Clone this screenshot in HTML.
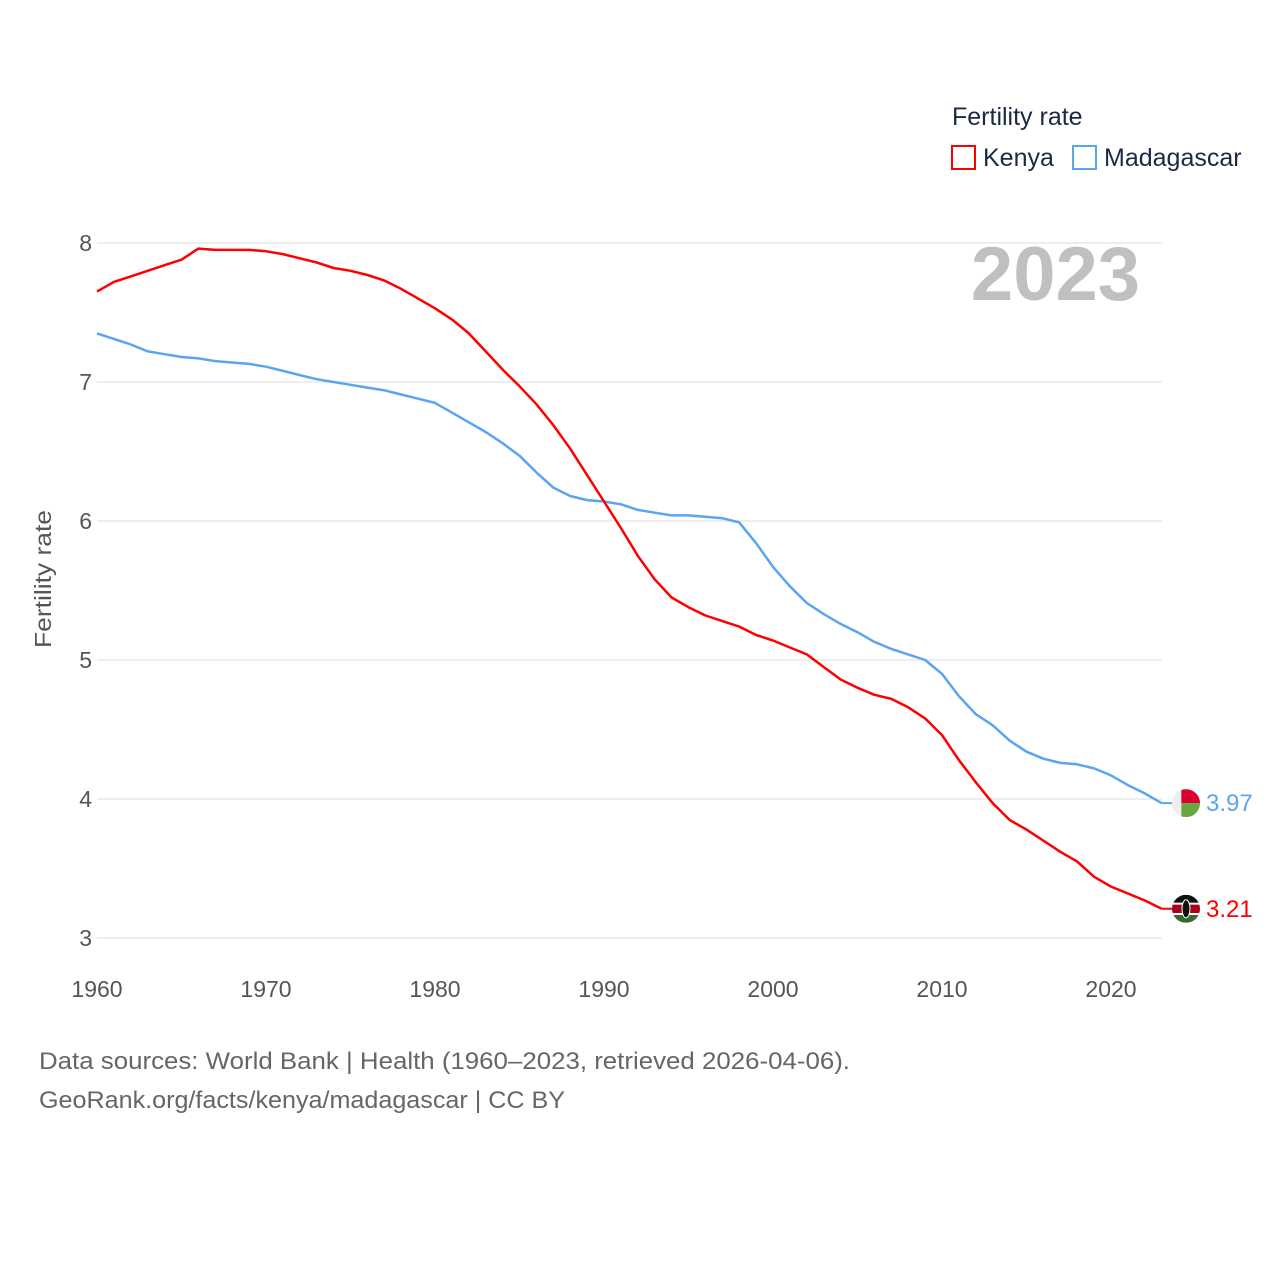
<!DOCTYPE html>
<html><head><meta charset="utf-8"><style>
body{margin:0;background:#fff;font-family:"Liberation Sans",sans-serif;}
svg text{font-family:"Liberation Sans",sans-serif;}
</style></head><body>
<svg id="chart" width="1280" height="1280" viewBox="0 0 1280 1280">
<rect width="1280" height="1280" fill="#fff"/>
<g id="grid"></g>
<g id="yticks"></g>
<g id="xticks"></g>
<text transform="translate(51,579) rotate(-90)" text-anchor="middle" font-size="23" fill="#555" textLength="138" lengthAdjust="spacingAndGlyphs">Fertility rate</text>
<text x="1140" y="300" text-anchor="end" font-size="76" font-weight="bold" fill="#c0c0c0">2023</text>
<g>
<text x="952" y="125" font-size="25" fill="#1a2a44">Fertility rate</text>
<g><rect x="952" y="146" width="23" height="23" fill="none" stroke="#ff0000" stroke-width="2"/><text x="983" y="166" font-size="25" fill="#1a2a44">Kenya</text></g>
<g><rect x="1073" y="146" width="23" height="23" fill="none" stroke="#5aa5f0" stroke-width="2"/><text x="1104" y="166" font-size="25" fill="#1a2a44">Madagascar</text></g>
</g>
<g id="series"></g>
<text x="39" y="1069" font-size="24" fill="#666" textLength="811" lengthAdjust="spacingAndGlyphs">Data sources: World Bank | Health (1960–2023, retrieved 2026-04-06).</text>
<text x="39" y="1108" font-size="24" fill="#666" textLength="526" lengthAdjust="spacingAndGlyphs">GeoRank.org/facts/kenya/madagascar | CC BY</text>
</svg>
<script>
const years=[];for(let y=1960;y<=2023;y++)years.push(y);
const kenya=[7.65,7.72,7.76,7.80,7.84,7.88,7.96,7.95,7.95,7.95,7.94,7.92,7.89,7.86,7.82,7.80,7.77,7.73,7.67,7.60,7.53,7.45,7.35,7.22,7.09,6.97,6.84,6.69,6.52,6.33,6.14,5.95,5.75,5.58,5.45,5.38,5.32,5.28,5.24,5.18,5.14,5.09,5.04,4.95,4.86,4.80,4.75,4.72,4.66,4.58,4.46,4.28,4.12,3.97,3.85,3.78,3.70,3.62,3.55,3.44,3.37,3.32,3.27,3.21];
const madagascar=[7.35,7.31,7.27,7.22,7.20,7.18,7.17,7.15,7.14,7.13,7.11,7.08,7.05,7.02,7.00,6.98,6.96,6.94,6.91,6.88,6.85,6.78,6.71,6.64,6.56,6.47,6.35,6.24,6.18,6.15,6.14,6.12,6.08,6.06,6.04,6.04,6.03,6.02,5.99,5.84,5.67,5.53,5.41,5.33,5.26,5.20,5.13,5.08,5.04,5.00,4.90,4.74,4.61,4.53,4.42,4.34,4.29,4.26,4.25,4.22,4.17,4.10,4.04,3.97];
const yTicks=[3,4,5,6,7,8];
const xTicks=[1960,1970,1980,1990,2000,2010,2020];
const NS='http://www.w3.org/2000/svg';
const X=y=>97+(y-1960)*(1111-97)/60;
const Y=v=>938-(v-3)*139;
function mk(t,a,p){const e=document.createElementNS(NS,t);for(const k in a)e.setAttribute(k,a[k]);p.appendChild(e);return e;}
const grid=document.getElementById('grid'),yt=document.getElementById('yticks'),xt=document.getElementById('xticks'),ser=document.getElementById('series');
yTicks.forEach(v=>{
 const l=mk('line',{x1:97,x2:1162,y1:Y(v),y2:Y(v),stroke:'#e8e8e8','stroke-width':1.5},grid);
 
 
 const t=mk('text',{x:92,y:Y(v)+8,'text-anchor':'end','font-size':23,fill:'#555'},yt);t.textContent=v;
 
 
});
xTicks.forEach(v=>{
 const t=mk('text',{x:X(v),y:997,'text-anchor':'middle','font-size':23,fill:'#555'},xt);t.textContent=v;
 
 
});
function line(data,color,name){
 const d=data.map((v,i)=>(i?'L':'M')+X(years[i]).toFixed(1)+','+Y(v).toFixed(1)).join('');
 const p=mk('path',{d:d,fill:'none',stroke:color,'stroke-width':2.5,'stroke-linejoin':'round'},ser);
 
 
}
line(madagascar,'#5aa5f0','madagascar-line');
line(kenya,'#ff0000','kenya-line');
function endMark(data,color,name,flag){
 const v=data[data.length-1],x=X(2023),y=Y(v);
 const g=mk('g',{},ser);
 
 
 mk('line',{x1:x,x2:1180,y1:y,y2:y,stroke:color,'stroke-width':2},g);
 const cx=1186,r=14;
 const clip=mk('clipPath',{id:'c'+name},g);
 mk('circle',{cx:cx,cy:y,r:r},clip);
 const fg=mk('g',{'clip-path':'url(#c'+name+')'},g);
 if(flag==='mg'){
  mk('rect',{x:cx-r,y:y-r,width:2*r,height:2*r,fill:'#eee'},fg);
  mk('rect',{x:cx-r/3,y:y-r,width:2*r,height:r,fill:'#dc0030'},fg);
  mk('rect',{x:cx-r/3,y:y,width:2*r,height:r,fill:'#6aa640'},fg);
 }else{
  mk('rect',{x:cx-r,y:y-r,width:2*r,height:2*r/3,fill:'#111'},fg);
  mk('rect',{x:cx-r,y:y-r/3,width:2*r,height:2*r/3,fill:'#a8001e'},fg);
  mk('rect',{x:cx-r,y:y+r/3,width:2*r,height:2*r/3,fill:'#3a6b2e'},fg);
  mk('rect',{x:cx-r,y:y-r/3-1.5,width:2*r,height:2,fill:'#fff'},fg);
  mk('rect',{x:cx-r,y:y+r/3-0.5,width:2*r,height:2,fill:'#fff'},fg);
  mk('ellipse',{cx:cx,cy:y,rx:4,ry:9,fill:'#111',stroke:'#fff','stroke-width':1},fg);
 }
 const t=mk('text',{x:1206,y:y+8,'font-size':24,fill:color},g);t.textContent=v.toFixed(2);
}
endMark(madagascar,'#5aa5f0','madagascar','mg');
endMark(kenya,'#ff0000','kenya','ke');
</script>
</body></html>
